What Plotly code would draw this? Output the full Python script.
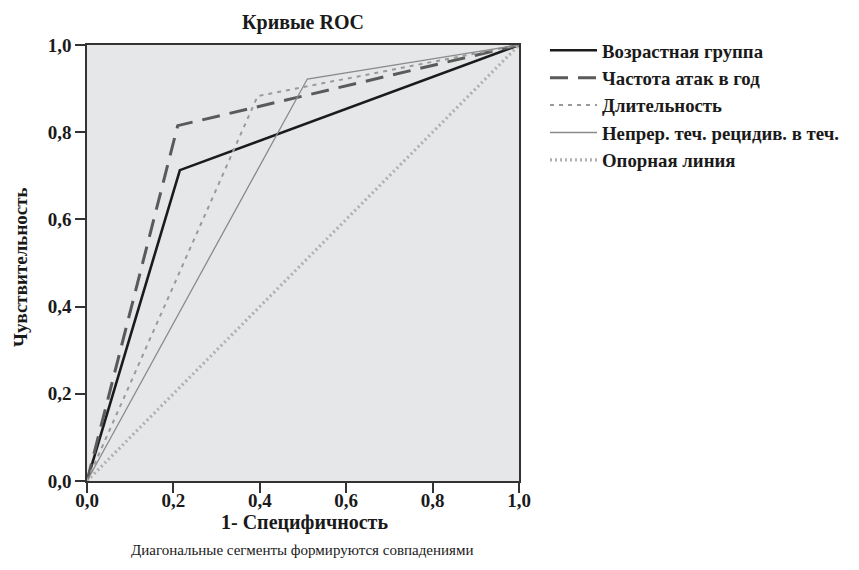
import plotly.graph_objects as go

names = ["Возрастная группа", "Частота атак в год", "Длительность",
         "Непрер. теч. рецидив. в теч.", "Опорная линия"]
x_age = [0.0, 0.215, 1.0]
y_age = [0.0, 0.713, 1.0]
x_freq = [0.0, 0.21, 1.0]
y_freq = [0.0, 0.815, 1.0]
x_dur = [0.0, 0.395, 1.0]
y_dur = [0.0, 0.883, 1.0]
x_rel = [0.0, 0.51, 1.0]
y_rel = [0.0, 0.922, 1.0]
x_ref = [0.0, 1.0]
y_ref = [0.0, 1.0]

tick_vals = [0.0, 0.2, 0.4, 0.6, 0.8, 1.0]

FONT = "Liberation Serif"
TXT = "#1a1a1a"

fig = go.Figure()
styles = [
    (x_age, y_age, dict(color="#1b1b1b", width=2.6)),
    (x_freq, y_freq, dict(color="#5a5a5a", width=3, dash="18px,10px")),
    (x_dur, y_dur, dict(color="#9a9a9a", width=2, dash="4px,5px")),
    (x_rel, y_rel, dict(color="#8a8a8a", width=1.3)),
    (x_ref, y_ref, dict(color="#b0b0b0", width=3.2, dash="2px,3px")),
]
for i, (n, (xs, ys, ln)) in enumerate(zip(names, styles)):
    fig.add_trace(go.Scatter(x=xs, y=ys, mode="lines", name=n, line=ln,
                             legendgroup=f"g{i}"))

axis_common = dict(
    range=[0, 1], tickvals=tick_vals, tickformat=".1f",
    showgrid=False, zeroline=False,
    showline=True, linecolor="#333333", linewidth=1.5, mirror=True,
    ticks="outside", ticklen=10, tickwidth=1.5, tickcolor="#333333",
    tickfont=dict(family=FONT, size=19, color=TXT, weight="bold"),
)

# page body adds an 8px offset; figure coords = reference coords - 8
fig.update_layout(
    width=859, height=570,
    margin=dict(l=79, r=348, t=37, b=97),
    paper_bgcolor="white",
    plot_bgcolor="#e6e7e8",
    separators=", ",
    font=dict(family=FONT, color=TXT),
    title=dict(text="<b>Кривые ROC</b>", x=(303 - 8) / 859, xanchor="center",
               y=1 - 14 / 570, yanchor="middle",
               font=dict(family=FONT, size=20, color=TXT)),
    xaxis=dict(axis_common, ticklabelstandoff=-9),
    yaxis=axis_common,
    legend=dict(x=(545 - 87) / 432, xanchor="left", y=1.031, yanchor="top",
                bgcolor="rgba(0,0,0,0)", tracegroupgap=0, itemwidth=47,
                font=dict(family=FONT, size=18.8, color=TXT, weight="bold")),
    showlegend=True,
)

fig.add_annotation(text="<b>Чувствительность</b>", textangle=-90,
                   xref="paper", yref="paper", x=(20 - 87) / 432,
                   y=(481 - 267) / 436, xanchor="center", yanchor="middle",
                   showarrow=False, font=dict(family=FONT, size=19, color=TXT))
fig.add_annotation(text="<b>1- Специфичность</b>",
                   xref="paper", yref="paper", x=(304 - 87) / 432,
                   y=(481 - 522) / 436, xanchor="center", yanchor="middle",
                   showarrow=False, font=dict(family=FONT, size=20, color=TXT))
fig.add_annotation(text="Диагональные сегменты формируются совпадениями",
                   xref="paper", yref="paper", x=(302 - 87) / 432,
                   y=(481 - 550) / 436, xanchor="center", yanchor="middle",
                   showarrow=False, font=dict(family=FONT, size=15, color=TXT))

fig.write_html("out.html")
